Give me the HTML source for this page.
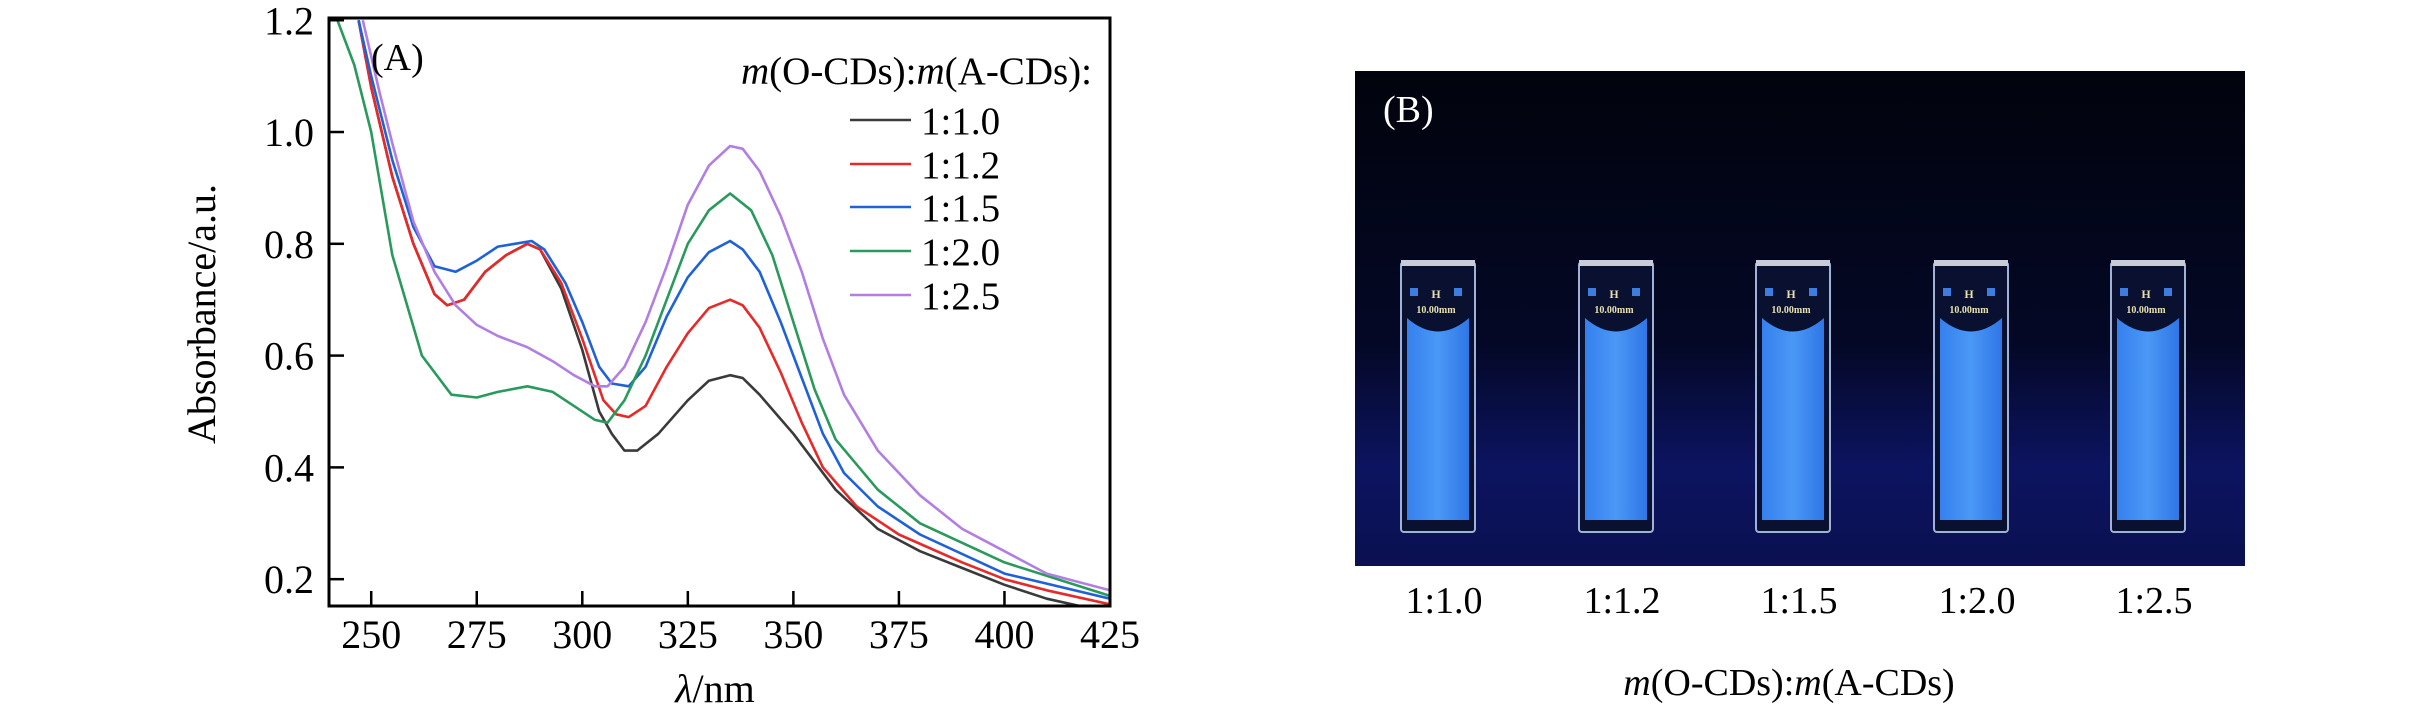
<!DOCTYPE html>
<html><head><meta charset="utf-8"><style>
html,body{margin:0;padding:0;background:#fff;}
svg{display:block;}
svg text{font-family:"Liberation Serif",serif;}
</style></head><body>
<svg id="fig" width="2415" height="709" viewBox="0 0 2415 709" font-family="Liberation Serif, serif">
<defs>
<clipPath id="plotclip"><rect x="329" y="18" width="781" height="588"/></clipPath>
<linearGradient id="bg" x1="0" y1="0" x2="0" y2="1">
<stop offset="0" stop-color="#01030c"/><stop offset="0.55" stop-color="#040826"/><stop offset="0.8" stop-color="#0c1460"/><stop offset="1" stop-color="#0a1050"/>
</linearGradient>
<linearGradient id="liq" x1="0" y1="0" x2="1" y2="0">
<stop offset="0" stop-color="#3580ee"/><stop offset="0.5" stop-color="#4a98f6"/><stop offset="1" stop-color="#2f76e6"/>
</linearGradient>
</defs>
<g id="chart"></g>
<g id="photo"></g>
</svg>
<script>
const NS="http://www.w3.org/2000/svg";
const ticksX=[250,275,300,325,350,375,400,425];
const ticksY=[0.2,0.4,0.6,0.8,1.0,1.2];
const seriesNames=["1:1.0","1:1.2","1:1.5","1:2.0","1:2.5"];
const seriesColors=["#3a3a3a","#e62a2a","#1f62d8","#2a9a5c","#b27ee2"];
const wlBlack=[247,250,255,260,265,268,272,277,282,287,290,295,300,304,307,310,313,318,325,330,335,338,342,350,360,370,380,390,400,410,425];
const absBlack=[1.2,1.08,0.92,0.8,0.71,0.69,0.70,0.75,0.78,0.80,0.79,0.72,0.61,0.50,0.46,0.43,0.43,0.46,0.52,0.555,0.565,0.56,0.53,0.46,0.36,0.29,0.25,0.22,0.19,0.165,0.14];
const wlRed=[247,250,255,260,265,268,272,277,282,287,290,295,300,305,308,311,315,320,325,330,335,338,342,347,352,357,365,375,390,400,410,425];
const absRed=[1.2,1.08,0.92,0.8,0.71,0.69,0.70,0.75,0.78,0.80,0.79,0.73,0.63,0.52,0.495,0.49,0.51,0.58,0.64,0.685,0.70,0.69,0.65,0.57,0.48,0.40,0.33,0.28,0.23,0.20,0.18,0.155];
const wlBlue=[247,250,255,260,265,270,275,280,284,288,291,296,300,304,307,311,315,320,325,330,335,338,342,347,352,357,362,370,380,400,425];
const absBlue=[1.2,1.1,0.95,0.83,0.76,0.75,0.77,0.795,0.80,0.805,0.79,0.73,0.66,0.58,0.55,0.545,0.58,0.67,0.74,0.785,0.805,0.79,0.75,0.66,0.56,0.46,0.39,0.33,0.28,0.21,0.165];
const wlGreen=[242,246,250,255,262,269,275,280,287,293,298,303,306,310,315,320,325,330,335,340,345,350,355,360,370,380,400,425];
const absGreen=[1.2,1.12,1.0,0.78,0.60,0.53,0.525,0.535,0.545,0.535,0.51,0.485,0.48,0.52,0.60,0.70,0.80,0.86,0.89,0.86,0.78,0.66,0.54,0.45,0.36,0.30,0.23,0.17];
const wlPurple=[248,252,255,260,265,270,275,280,287,293,298,303,306,310,315,320,325,330,335,338,342,347,352,357,362,370,380,390,400,410,425];
const absPurple=[1.2,1.07,0.98,0.84,0.75,0.69,0.655,0.635,0.615,0.59,0.565,0.545,0.545,0.58,0.66,0.76,0.87,0.94,0.975,0.97,0.93,0.85,0.75,0.63,0.53,0.43,0.35,0.29,0.25,0.21,0.18];
const allWl=[wlBlack,wlRed,wlBlue,wlGreen,wlPurple];
const allAbs=[absBlack,absRed,absBlue,absGreen,absPurple];

const L=329,R=1110,T=18,B=606,XMIN=240,XMAX=425,YMIN=0.152,YMAX=1.204;
const sx=v=>L+(v-XMIN)/(XMAX-XMIN)*(R-L);
const sy=v=>B-(v-YMIN)/(YMAX-YMIN)*(B-T);
const chart=document.getElementById('chart');
function mk(tag,attrs,parent,text){const e=document.createElementNS(NS,tag);for(const k in attrs)e.setAttribute(k,attrs[k]);if(text!==undefined)e.textContent=text;(parent||chart).appendChild(e);return e;}

const sg=mk('g',{'clip-path':'url(#plotclip)'});


allWl.forEach((wl,i)=>{
  const d=wl.map((w,j)=>(j?'L':'M')+sx(w).toFixed(1)+','+sy(allAbs[i][j]).toFixed(1)).join(' ');
  const p=mk('path',{d:d,fill:'none',stroke:seriesColors[i],'stroke-width':2.6,'stroke-linejoin':'round'},sg);
  
  
});
const fr=mk('rect',{x:L,y:T,width:R-L,height:B-T,fill:'none',stroke:'#000','stroke-width':3});


ticksX.forEach(t=>{
  const x=sx(t);
  const tk=mk('line',{x1:x,x2:x,y1:B,y2:B-15,stroke:'#000','stroke-width':2.5});
  
  
  const lb=mk('text',{x:x,y:648,'font-size':40,'text-anchor':'middle'},chart,String(t));
  
  
});
ticksY.forEach(t=>{
  const y=sy(t);
  const tk=mk('line',{x1:L,x2:L+15,y1:y,y2:y,stroke:'#000','stroke-width':2.5});
  
  
  const lb=mk('text',{x:314,y:y+14,'font-size':40,'text-anchor':'end'},chart,t.toFixed(1));
  
  
});
const yt=mk('text',{x:0,y:0,'font-size':40,'text-anchor':'middle',transform:'translate(215,314) rotate(-90)'},chart,'Absorbance/a.u.');


const xt=mk('text',{x:715,y:702,'font-size':40,'text-anchor':'middle'});


mk('tspan',{'font-style':'italic'},xt,'λ');mk('tspan',{},xt,'/nm');
const pa=mk('text',{x:371,y:70,'font-size':38},chart,'(A)');


const lg=mk('g',{});


const lt=mk('text',{x:1092,y:84,'font-size':39,'text-anchor':'end'},lg);


mk('tspan',{'font-style':'italic'},lt,'m');mk('tspan',{},lt,'(O-CDs):');mk('tspan',{'font-style':'italic'},lt,'m');mk('tspan',{},lt,'(A-CDs):');
const legY=[120,164,207,251,295];
seriesNames.forEach((n,i)=>{
  const ln=mk('line',{x1:850,x2:911,y1:legY[i],y2:legY[i],stroke:seriesColors[i],'stroke-width':2.6},lg);
  
  
  const tx=mk('text',{x:921,y:legY[i]+14,'font-size':39},lg,n);
  
  
});

const ph=document.getElementById('photo');
const pr=mk('rect',{x:1355,y:71,width:890,height:495,fill:'url(#bg)'},ph);


const pb=mk('text',{x:1383,y:122,'font-size':38,fill:'#fff'},ph,'(B)');


const cx=[1438,1616,1793,1971,2148];
cx.forEach((c,i)=>{
  const g=mk('g',{},ph);
  
  
  mk('rect',{x:c-37,y:262,width:74,height:270,fill:'#0a1030',stroke:'#9fb3d8','stroke-width':2,rx:3},g);
  mk('path',{d:`M${c-31},318 Q${c},345 ${c+31},318 L${c+31},520 L${c-31},520 Z`,fill:'url(#liq)'},g);
  mk('rect',{x:c-37,y:260,width:74,height:6,fill:'#c8ccd8'},g);
  mk('rect',{x:c-28,y:288,width:8,height:8,fill:'#3d7de0'},g);
  mk('rect',{x:c+16,y:288,width:8,height:8,fill:'#3d7de0'},g);
  mk('text',{x:c-2,y:298,'font-size':12,'font-weight':'bold',fill:'#e8e0b0','text-anchor':'middle','font-family':'Liberation Sans, sans-serif'},g,'H');
  mk('text',{x:c-2,y:313,'font-size':10,'font-weight':'bold',fill:'#e8e0b0','text-anchor':'middle','font-family':'Liberation Sans, sans-serif'},g,'10.00mm');
  const lb=mk('text',{x:cx[i]+6,y:613,'font-size':38,'text-anchor':'middle'},ph,seriesNames[i]);
  
  
});
const pt=mk('text',{x:1789,y:695,'font-size':38,'text-anchor':'middle'},ph);


mk('tspan',{'font-style':'italic'},pt,'m');mk('tspan',{},pt,'(O-CDs):');mk('tspan',{'font-style':'italic'},pt,'m');mk('tspan',{},pt,'(A-CDs)');
</script>
</body></html>
